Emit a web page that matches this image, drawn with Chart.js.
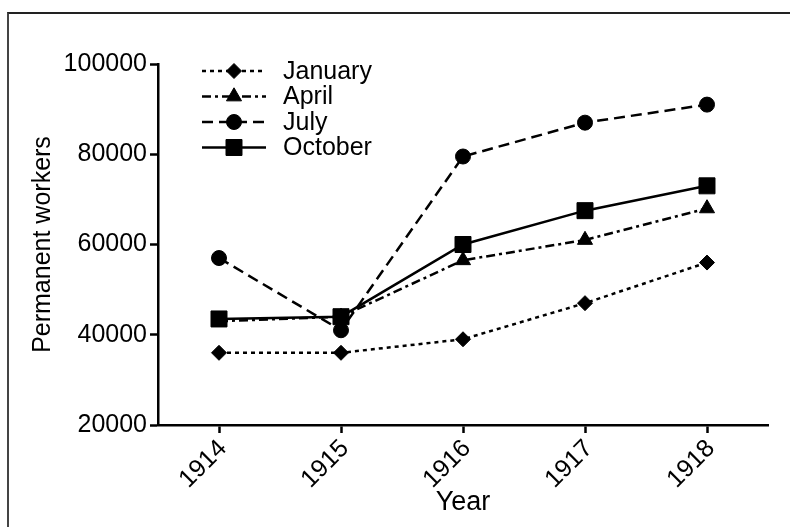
<!DOCTYPE html>
<html>
<head>
<meta charset="utf-8">
<script src="https://cdn.jsdelivr.net/npm/chart.js@4.4.1/dist/chart.umd.min.js"></script>
<style>
  html, body { margin: 0; padding: 0; background: #fff; }
  #wrap { position: relative; width: 790px; height: 527px; overflow: hidden; }
  #frame {
    position: absolute; left: 7px; top: 12px; right: -10px; bottom: -10px;
    border-left: 2px solid #444; border-top: 2px solid #222;
    pointer-events: none;
  }
  canvas { position: absolute; left: 0; top: 0; }
</style>
</head>
<body>
<div id="wrap">
  <canvas id="chart" width="790" height="527"></canvas>
  <div id="frame"></div>
</div>
<script>
// ── DATA ───────────────────────────────────────────────────
const years   = ['1914', '1915', '1916', '1917', '1918'];
const january = [36000, 36000, 39000, 47000, 56000];
const april   = [43000, 44000, 56500, 61000, 68000];
const july    = [57000, 41000, 79500, 87000, 91000];
const october = [43500, 44000, 60000, 67500, 73000];
const yTicks  = [20000, 40000, 60000, 80000, 100000];

const FONT = 'Liberation Sans, Arial, Helvetica, sans-serif';

function series(label, data, dash, style, radius, order) {
  return {
    label,
    data,
    borderColor: '#000',
    backgroundColor: '#000',
    borderWidth: 2.5,
    borderDash: dash,
    pointStyle: style,
    pointRadius: radius,
    pointHoverRadius: radius,
    pointBorderWidth: 1,
    pointBackgroundColor: '#000',
    pointBorderColor: '#000',
    tension: 0,
    fill: false,
    order,
  };
}

// ── LEGEND (drawn by hand, line + marker + text) ───────────
const legendPlugin = {
  id: 'inlineLegend',
  afterDatasetsDraw(chart) {
    const ctx = chart.ctx;
    chart.data.datasets.forEach((ds, i) => {
      const y = 71 + i * 25.5;
      ctx.save();
      ctx.strokeStyle = '#000';
      ctx.lineWidth = 2.5;
      ctx.setLineDash(ds.borderDash || []);
      ctx.beginPath();
      ctx.moveTo(202, y);
      ctx.lineTo(266, y);
      ctx.stroke();
      ctx.setLineDash([]);
      ctx.fillStyle = '#000';
      ctx.lineWidth = 1;
      Chart.helpers.drawPoint(ctx, {
        pointStyle: ds.pointStyle,
        radius: ds.pointRadius,
        rotation: 0,
        borderWidth: 1,
      }, 234, y);
      ctx.font = '25px ' + FONT;
      ctx.textBaseline = 'middle';
      ctx.textAlign = 'left';
      ctx.fillText(ds.label, 283, y + 1);
      ctx.restore();
    });
  }
};

new Chart(document.getElementById('chart'), {
  type: 'line',
  data: {
    labels: years,
    datasets: [
      series('January', january, [4, 4], 'rectRot', 7.5, 3),
      series('April', april, [9, 4, 3, 4], 'triangle', 8.7, 2),
      series('July', july, [11, 6], 'circle', 7.5, 1),
      series('October', october, [], 'rect', 11.3, 0),
    ],
  },
  options: {
    responsive: false,
    devicePixelRatio: 1,
    animation: false,
    layout: { padding: { top: 64, right: 22, bottom: 0, left: 0 } },
    plugins: {
      legend: { display: false },
      tooltip: { enabled: false },
    },
    scales: {
      x: {
        type: 'category',
        offset: true,
        grid: {
          offset: false,
          drawOnChartArea: false,
          drawTicks: true,
          tickLength: 8,
          tickWidth: 2.5,
          tickColor: '#000',
        },
        border: { display: true, color: '#000', width: 2.5 },
        ticks: {
          color: '#000',
          font: { family: FONT, size: 25 },
          minRotation: 45,
          maxRotation: 45,
          padding: 1,
          labelOffset: 4,
        },
        title: {
          display: true,
          text: 'Year',
          color: '#000',
          font: { family: FONT, size: 27 },
          padding: { top: 0, bottom: 8 },
        },
        afterFit: s => { s.height = 102; },
      },
      y: {
        min: 20000,
        max: 100000,
        afterBuildTicks: s => { s.ticks = yTicks.map(v => ({ value: v })); },
        grid: {
          drawOnChartArea: false,
          drawTicks: true,
          tickLength: 8,
          tickWidth: 2.5,
          tickColor: '#000',
        },
        border: { display: true, color: '#000', width: 2.5 },
        ticks: {
          color: '#000',
          font: { family: FONT, size: 25 },
          padding: 3,
          callback: v => String(v),
        },
        title: {
          display: true,
          text: 'Permanent workers',
          color: '#000',
          font: { family: FONT, size: 25 },
          padding: { top: 28, bottom: 0 },
        },
        afterFit: s => { s.width = 158; },
      },
    },
  },
  plugins: [legendPlugin],
});
</script>
</body>
</html>
